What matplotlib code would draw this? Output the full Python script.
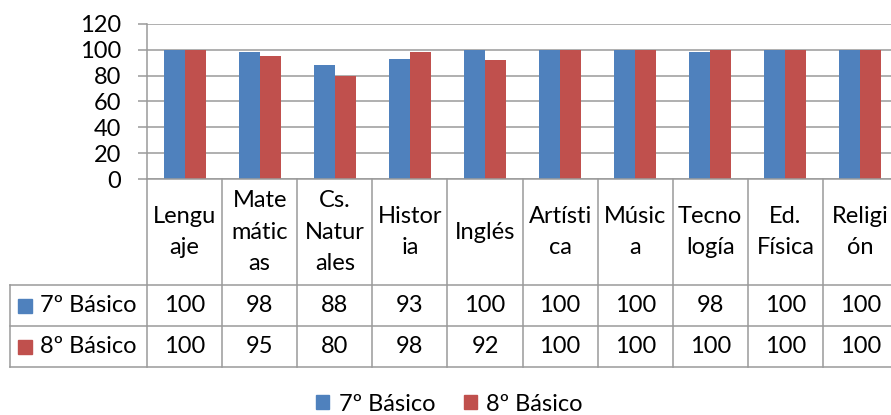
import matplotlib.pyplot as plt
from matplotlib.patches import Patch

plt.rcParams['font.family'] = ['Lato', 'DejaVu Sans']

# data
categories = ['Lengu\naje', 'Mate\nmátic\nas', 'Cs.\nNatur\nales', 'Histor\nia', 'Inglés',
              'Artísti\nca', 'Músic\na', 'Tecno\nlogía', 'Ed.\nFísica', 'Religi\nón']
series_names = ['7º Básico', '8º Básico']
values_7 = [100, 98, 88, 93, 100, 100, 100, 98, 100, 100]
values_8 = [100, 95, 80, 98, 92, 100, 100, 100, 100, 100]
yticks = [0, 20, 40, 60, 80, 100, 120]

colors = ['#4F81BD', '#C0504D']
line_col = '#9a9a9a'
fs = 17

W, H = 891, 415
fig = plt.figure(figsize=(W / 100, H / 100), dpi=100)

cat_px = 75.1
x_left = 147
xmax = (W - x_left) / cat_px

# bar axes
ax = fig.add_axes([x_left / W, 1 - 179 / H, 1 - x_left / W, (179 - 24) / H])
bw = 0.28
for i, (v7, v8) in enumerate(zip(values_7, values_8)):
    ax.bar(i + 0.5 - bw / 2, v7, width=bw, color=colors[0], zorder=3)
    ax.bar(i + 0.5 + bw / 2, v8, width=bw, color=colors[1], zorder=3)
ax.set_xlim(0, xmax)
ax.set_ylim(0, 120)
ax.set_yticks(yticks)
ax.set_xticks([])
ax.yaxis.grid(True, color=line_col, linewidth=1.1, zorder=0)
for s in ['top', 'right', 'bottom']:
    ax.spines[s].set_visible(False)
ax.spines['left'].set_color(line_col)
ax.spines['left'].set_linewidth(1.1)
ax.tick_params(axis='y', length=6.5, width=1.1, color=line_col, pad=12, labelsize=fs)

# data table below
axt = fig.add_axes([x_left / W, 1 - 367 / H, 1 - x_left / W, (367 - 179) / H])
axt.set_xlim(0, xmax)
axt.set_ylim(188, 0)
axt.axis('off')
row_edges = [0, 106, 147, 188]
lbl_left = -(x_left - 10) / cat_px
lk = dict(color=line_col, linewidth=1.1, clip_on=False)

for y in row_edges:
    x0 = 0 if y == 0 else lbl_left
    axt.plot([x0, 10], [y, y], **lk)
for i in range(11):
    axt.plot([i, i], [0, 188], **lk)
axt.plot([lbl_left, lbl_left], [106, 188], **lk)

for i, c in enumerate(categories):
    axt.text(i + 0.5, 53, c, ha='center', va='center', fontsize=fs,
             linespacing=1.6, clip_on=False)

for r, (name, vals) in enumerate(zip(series_names, [values_7, values_8])):
    yc = (row_edges[r + 1] + row_edges[r + 2]) / 2
    axt.plot([lbl_left + 15 / cat_px], [yc], marker='s', markersize=10.5,
             color=colors[r], clip_on=False)
    axt.text(lbl_left + 30 / cat_px, yc, name, ha='left', va='center',
             fontsize=fs, clip_on=False)
    for i, v in enumerate(vals):
        axt.text(i + 0.5, yc, str(v), ha='center', va='center', fontsize=fs,
                 clip_on=False)

handles = [Patch(color=colors[0]), Patch(color=colors[1])]
fig.legend(handles, series_names, loc='center', bbox_to_anchor=(449.5 / W, 11 / H),
           ncol=2, frameon=False, fontsize=fs, handlelength=0.55, handleheight=0.55,
           handletextpad=0.4, columnspacing=1.2)

fig.savefig('out.png', dpi=100)
